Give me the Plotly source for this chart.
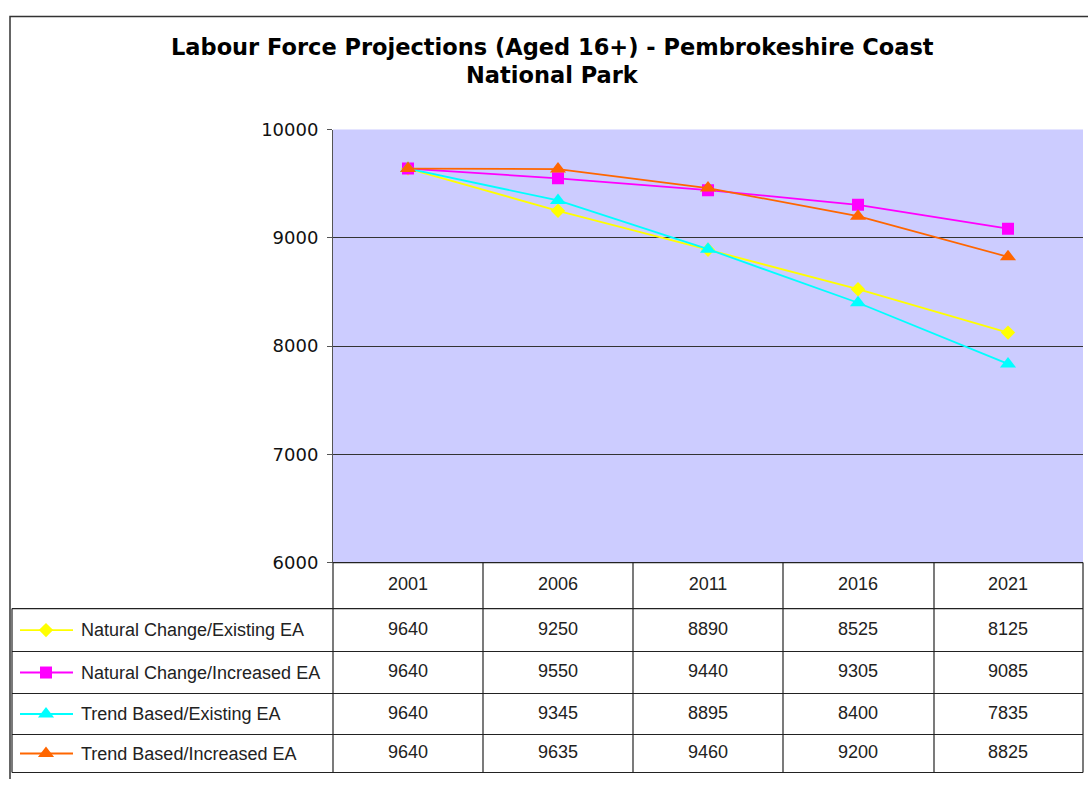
import plotly.graph_objects as go

years = ["2001", "2006", "2011", "2016", "2021"]
series_names = [
    "Natural Change/Existing EA",
    "Natural Change/Increased EA",
    "Trend Based/Existing EA",
    "Trend Based/Increased EA",
]
natural_existing = [9640, 9250, 8890, 8525, 8125]
natural_increased = [9640, 9550, 9440, 9305, 9085]
trend_existing = [9640, 9345, 8895, 8400, 7835]
trend_increased = [9640, 9635, 9460, 9200, 8825]
y_ticks = [6000, 7000, 8000, 9000, 10000]

series_values = [natural_existing, natural_increased, trend_existing, trend_increased]
colors = ["#FFFF00", "#FF00FF", "#00FFFF", "#FF6600"]
symbols = ["diamond", "square", "triangle-up", "triangle-up"]
sizes = [11, 12, 14, 14]

W, H = 1088, 789
# the captured page comes out slightly shifted / squeezed vertically;
# layout positions below are in target-image pixels and mapped back here
Y_OFF, Y_SCALE = 9.4, 0.9735


def fy(y):
    return (y - Y_OFF) / Y_SCALE


# plot area in pixels
PL, PR, PT, PB = 333, 1083, 128, 561
# table rows (pixel y of horizontal lines)
row_lines = [561, 607, 650, 692, 733, 771]
TL = 12
col_lines = [333, 483, 633, 783, 934, 1083]
table_font = dict(family="Liberation Sans, Arial", size=18, color="#222")
title_font = dict(family="DejaVu Sans", size=22.5, color="black")

fig = go.Figure()

idx = list(range(len(years)))
for name, vals, c, s, sz in zip(series_names, series_values, colors, symbols, sizes):
    fig.add_trace(go.Scatter(
        x=idx, y=vals, mode="lines+markers", name=name,
        line=dict(color=c, width=1.8),
        marker=dict(color=c, symbol=s, size=sz),
        xaxis="x", yaxis="y", showlegend=False,
    ))

# table text: years header and values (on category x, pixel y)
row_centers = [(row_lines[i] + row_lines[i + 1]) / 2 for i in range(len(row_lines) - 1)]
fig.add_trace(go.Scatter(
    x=idx, y=[row_centers[0]] * len(years), mode="text", text=years,
    textfont=table_font, xaxis="x", yaxis="y2", showlegend=False, hoverinfo="skip",
))
for r, vals in enumerate(series_values):
    fig.add_trace(go.Scatter(
        x=idx, y=[row_centers[r + 1]] * len(vals), mode="text", text=[str(v) for v in vals],
        textfont=table_font, xaxis="x", yaxis="y2", showlegend=False, hoverinfo="skip",
    ))

# legend keys in table
for r, (name, c, s, sz) in enumerate(zip(series_names, colors, symbols, sizes)):
    yc = row_centers[r + 1]
    fig.add_trace(go.Scatter(
        x=[20, 73], y=[yc, yc], mode="lines", line=dict(color=c, width=1.8),
        xaxis="x2", yaxis="y2", showlegend=False, hoverinfo="skip",
    ))
    fig.add_trace(go.Scatter(
        x=[46], y=[yc], mode="markers", marker=dict(color=c, symbol=s, size=sz),
        xaxis="x2", yaxis="y2", showlegend=False, hoverinfo="skip",
    ))
    fig.add_annotation(
        x=79, y=yc, xref="x2", yref="y2", text=name, showarrow=False,
        xanchor="left", yanchor="middle", font=table_font,
    )

# titles
fig.add_annotation(x=552, y=45, xref="x2", yref="y2", showarrow=False,
                   text="<b>Labour Force Projections (Aged 16+) - Pembrokeshire Coast</b>",
                   font=title_font, yanchor="middle")
fig.add_annotation(x=552, y=73, xref="x2", yref="y2", showarrow=False,
                   text="<b>National Park</b>", font=title_font, yanchor="middle")

shapes = []
# plot area background
shapes.append(dict(type="rect", xref="x domain", yref="y domain", x0=0, x1=1, y0=0, y1=1,
                   fillcolor="#CCCCFF", line=dict(width=0), layer="below"))
# outer frame
shapes.append(dict(type="rect", xref="x2", yref="y2", x0=10, x1=1100, y0=15, y1=810,
                   line=dict(color="#333", width=1.5)))
# table lines
for i, yl in enumerate(row_lines):
    x0 = PL if i == 0 else TL
    shapes.append(dict(type="line", xref="x2", yref="y2", x0=x0, x1=PR, y0=yl, y1=yl,
                       line=dict(color="#222", width=1.2)))
for xl in col_lines:
    shapes.append(dict(type="line", xref="x2", yref="y2", x0=xl, x1=xl, y0=row_lines[0], y1=row_lines[-1],
                       line=dict(color="#222", width=1.2)))
shapes.append(dict(type="line", xref="x2", yref="y2", x0=TL, x1=TL, y0=row_lines[1], y1=row_lines[-1],
                   line=dict(color="#222", width=1.2)))

fig.update_layout(
    width=W, height=H,
    margin=dict(l=0, r=0, t=0, b=0),
    paper_bgcolor="white",
    plot_bgcolor="rgba(0,0,0,0)",
    shapes=shapes,
    xaxis=dict(domain=[PL / W, PR / W], range=[-0.5, 4.5], showgrid=False, zeroline=False,
               showticklabels=False, showline=False, anchor="y", fixedrange=True),
    yaxis=dict(domain=[1 - fy(PB) / H, 1 - fy(PT) / H], range=[6000, 10000], tickvals=y_ticks, tickformat="d",
               showgrid=True, gridcolor="#333", gridwidth=1, zeroline=False,
               showline=True, linecolor="#555", linewidth=1,
               ticks="outside", ticklen=5, tickcolor="#555", ticklabelstandoff=5,
               tickfont=dict(family="DejaVu Sans", size=18, color="#111"),
               anchor="x", fixedrange=True),
    xaxis2=dict(domain=[0, 1], range=[0, W], visible=False, anchor="y2", fixedrange=True),
    yaxis2=dict(domain=[0, 1], range=[Y_OFF + Y_SCALE * H, Y_OFF], visible=False, anchor="x2", fixedrange=True),
)

# pin the graph to the page corner so the page is exactly the figure size
pin = (
    "document.body.style.margin='0';"
    "var gd=document.getElementById('{plot_id}');"
    "gd.style.position='absolute';gd.style.left='0px';gd.style.top='0px';"
)
fig.write_html("out.html", post_script=pin, config={"displayModeBar": False})
